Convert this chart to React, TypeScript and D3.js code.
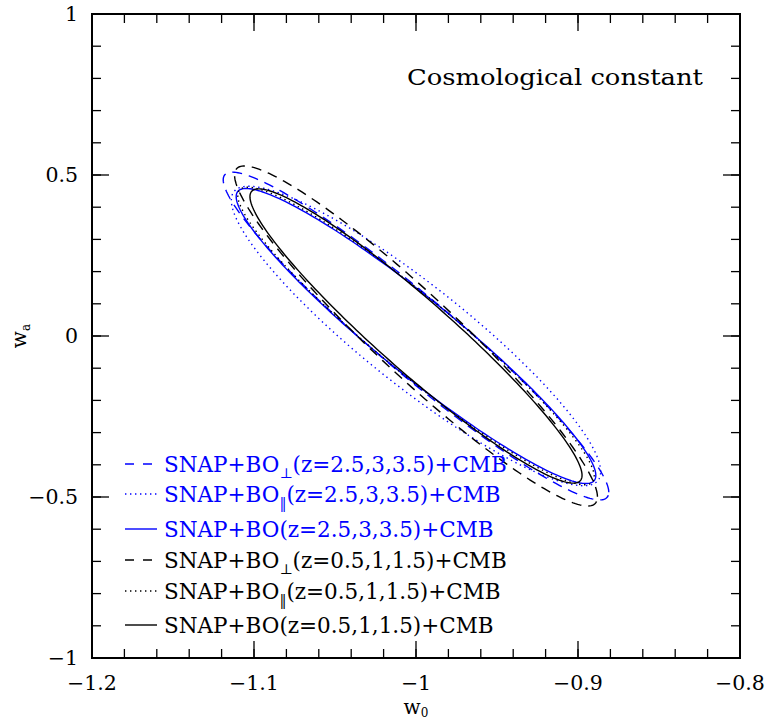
import React from 'react';
import * as d3 from 'd3';

// ---------------- data ----------------
const W0_DOMAIN = [-1.2, -0.8];
const WA_DOMAIN = [-1, 1];
const W0_MAJOR = [-1.2, -1.1, -1.0, -0.9, -0.8];
const W0_LABELS = ['\u22121.2', '\u22121.1', '\u22121', '\u22120.9', '\u22120.8'];
const WA_MAJOR = [-1, -0.5, 0, 0.5, 1];
const WA_LABELS = ['\u22121', '\u22120.5', '0', '0.5', '1'];
const W0_MINOR_STEP = 0.02;
const WA_MINOR_STEP = 0.1;

const FIDUCIAL_W0 = -1;
const FIDUCIAL_WA = 0;
// contours (order = legend order)
const HALF_W0 = [0.119, 0.114, 0.111, 0.112, 0.110, 0.1025];
const HALF_WA = [0.509, 0.465, 0.458, 0.528, 0.462, 0.457];
const CORR = [-0.953, -0.906, -0.945, -0.946, -0.945, -0.947];
const LEGEND_SUB = ['\u22A5', '\u2016', '', '\u22A5', '\u2016', ''];
const LEGEND_REST = [
  '(z=2.5,3,3.5)+CMB',
  '(z=2.5,3,3.5)+CMB',
  '(z=2.5,3,3.5)+CMB',
  '(z=0.5,1,1.5)+CMB',
  '(z=0.5,1,1.5)+CMB',
  '(z=0.5,1,1.5)+CMB',
];
const TITLE = 'Cosmological constant';

// ---------------- styles / layout ----------------
const COLORS = ['#0000ff', '#0000ff', '#0000ff', '#000000', '#000000', '#000000'];
const DASHES = ['10,7', '1.4,3.6', undefined, '10,7', '1.4,3.6', undefined];
const LEGEND_BASELINES = [472, 502, 537, 568, 599, 633];

const WIDTH = 768;
const HEIGHT = 721;
const M = { left: 92, right: 28, top: 14, bottom: 63 };
const FONT = '"DejaVu Serif", "Liberation Serif", serif';

export default function App() {
  const x = d3.scaleLinear().domain(W0_DOMAIN).range([M.left, WIDTH - M.right]);
  const y = d3.scaleLinear().domain(WA_DOMAIN).range([HEIGHT - M.bottom, M.top]);

  const x0 = M.left, x1 = WIDTH - M.right, y0 = M.top, y1 = HEIGHT - M.bottom;

  const w0Minor = d3.range(W0_DOMAIN[0], W0_DOMAIN[1] + 1e-9, W0_MINOR_STEP);
  const waMinor = d3.range(WA_DOMAIN[0], WA_DOMAIN[1] + 1e-9, WA_MINOR_STEP);

  const line = d3
    .line<[number, number]>()
    .x((d) => x(d[0]))
    .y((d) => y(d[1]))
    .curve(d3.curveLinearClosed);

  const contourPath = (i: number) => {
    const n = 240;
    const pts: [number, number][] = [];
    const r = CORR[i];
    const s = Math.sqrt(1 - r * r);
    for (let k = 0; k < n; k++) {
      const t = (2 * Math.PI * k) / n;
      pts.push([
        FIDUCIAL_W0 + HALF_W0[i] * Math.cos(t),
        FIDUCIAL_WA + HALF_WA[i] * (r * Math.cos(t) + s * Math.sin(t)),
      ]);
    }
    return line(pts) || '';
  };

  const MAJ = 17, MIN = 9;

  return (
    <svg
      width={WIDTH}
      height={HEIGHT}
      style={{ position: 'absolute', left: 0, top: 0, background: '#fff' }}
      fontFamily={FONT}
    >
      <rect x={0} y={0} width={WIDTH} height={HEIGHT} fill="#fff" />
      {/* contours */}
      {HALF_W0.map((_, i) => (
        <path
          key={'c' + i}
          d={contourPath(i)}
          fill="none"
          stroke={COLORS[i]}
          strokeWidth={1.4}
          strokeDasharray={DASHES[i]}
        />
      ))}

      {/* ticks */}
      <g stroke="#000" strokeWidth={1.3}>
        {w0Minor.map((v, i) => (
          <g key={'xm' + i}>
            <line x1={x(v)} x2={x(v)} y1={y1} y2={y1 - MIN} />
            <line x1={x(v)} x2={x(v)} y1={y0} y2={y0 + MIN} />
          </g>
        ))}
        {W0_MAJOR.map((v, i) => (
          <g key={'xM' + i}>
            <line x1={x(v)} x2={x(v)} y1={y1} y2={y1 - MAJ} />
            <line x1={x(v)} x2={x(v)} y1={y0} y2={y0 + MAJ} />
          </g>
        ))}
        {waMinor.map((v, i) => (
          <g key={'ym' + i}>
            <line x1={x0} x2={x0 + MIN} y1={y(v)} y2={y(v)} />
            <line x1={x1} x2={x1 - MIN} y1={y(v)} y2={y(v)} />
          </g>
        ))}
        {WA_MAJOR.map((v, i) => (
          <g key={'yM' + i}>
            <line x1={x0} x2={x0 + MAJ} y1={y(v)} y2={y(v)} />
            <line x1={x1} x2={x1 - MAJ} y1={y(v)} y2={y(v)} />
          </g>
        ))}
      </g>
      <rect x={x0} y={y0} width={x1 - x0} height={y1 - y0} fill="none" stroke="#000" strokeWidth={2} />

      {/* tick labels */}
      <g fontSize={20.5} fill="#000">
        {W0_MAJOR.map((v, i) => (
          <text key={'xl' + i} x={x(v)} y={690} textAnchor="middle">
            {W0_LABELS[i]}
          </text>
        ))}
        {WA_MAJOR.map((v, i) => (
          <text key={'yl' + i} x={78} y={y(v)} textAnchor="end" dominantBaseline="central">
            {WA_LABELS[i]}
          </text>
        ))}
      </g>

      {/* axis titles */}
      <text x={x(-1)} y={714} textAnchor="middle" fontSize={20}>
        w<tspan fontSize={12} dy={3}>0</tspan>
      </text>
      <text transform={`translate(26, ${y(0)}) rotate(-90)`} textAnchor="middle" fontSize={20}>
        w<tspan fontSize={12} dy={4}>a</tspan>
      </text>

      {/* title */}
      <text x={407} y={85} fontSize={22} textLength={296} lengthAdjust="spacingAndGlyphs">
        {TITLE}
      </text>

      {/* legend */}
      {LEGEND_REST.map((txt, i) => {
        const by = LEGEND_BASELINES[i];
        return (
          <g key={'lg' + i}>
            <line
              x1={125}
              x2={157}
              y1={by - 8}
              y2={by - 8}
              stroke={COLORS[i]}
              strokeWidth={1.4}
              strokeDasharray={DASHES[i] ? (DASHES[i] === '10,7' ? '9,9' : '1.4,3.6') : undefined}
            />
            <text x={164} y={by} fontSize={21.5} fill={COLORS[i]}>
              SNAP+BO
              {LEGEND_SUB[i] ? (
                <>
                  <tspan fontSize={14} dy={6}>{LEGEND_SUB[i]}</tspan>
                  <tspan dy={-6}>{txt}</tspan>
                </>
              ) : (
                <tspan>{txt}</tspan>
              )}
            </text>
          </g>
        );
      })}
    </svg>
  );
}
